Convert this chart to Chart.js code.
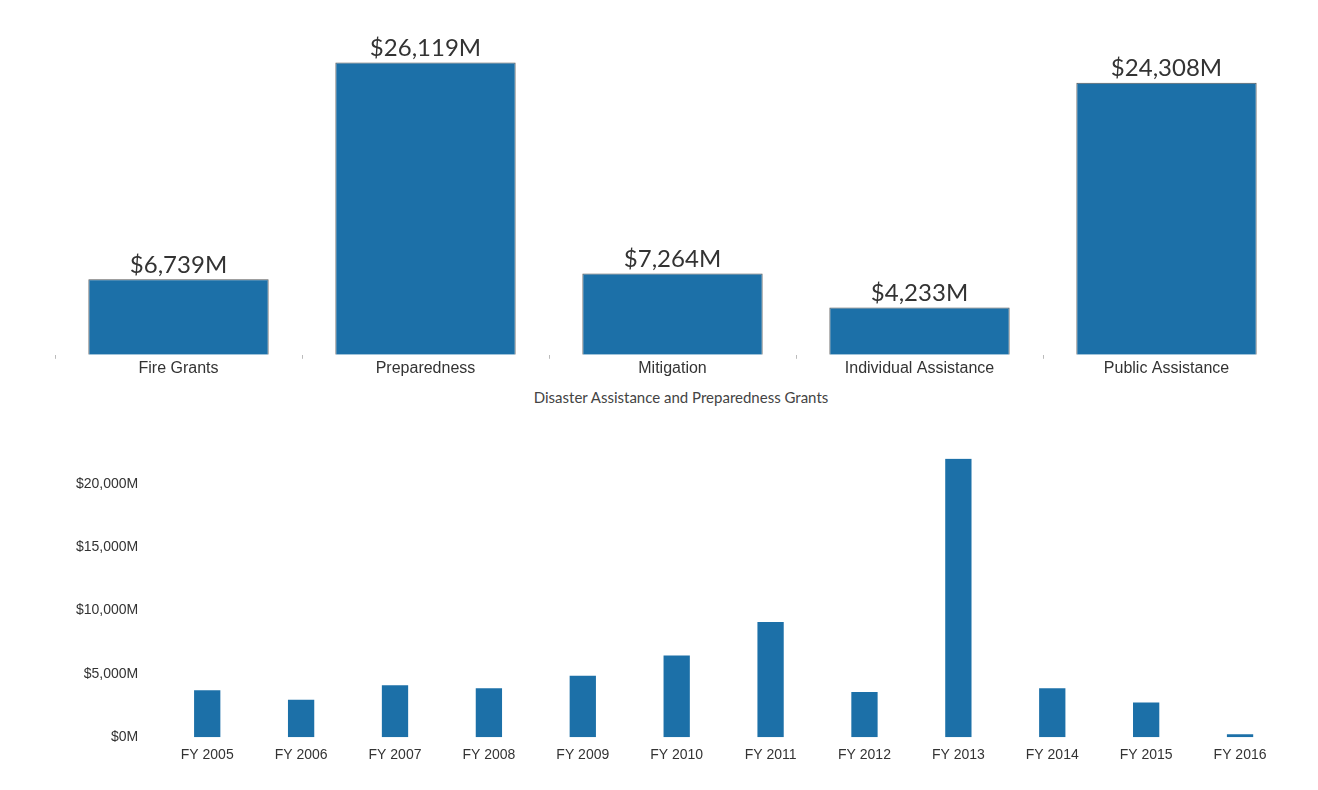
<!DOCTYPE html>
<html>
<head>
<meta charset="utf-8">
<script src="https://cdn.jsdelivr.net/npm/chart.js@4.4.0/dist/chart.umd.min.js"></script>
<style>
  body { margin: 0; background: #fff; font-family: "Lato", "DejaVu Sans", sans-serif; }
  #top { position: absolute; left: 55px; top: 0px; width: 1235px; height: 378px; }
  #title { position: absolute; left: 0; top: 388px; width: 1362px; text-align: center; font-size: 15px; color: #444; }
  #bottom { position: absolute; left: 62px; top: 436px; width: 1225px; height: 330px; }
</style>
</head>
<body>
<div id="top"><canvas id="programChart"></canvas></div>
<div id="title">Disaster Assistance and Preparedness Grants</div>
<div id="bottom"><canvas id="yearChart"></canvas></div>
<script>
const programs = ["Fire Grants", "Preparedness", "Mitigation", "Individual Assistance", "Public Assistance"];
const programTotals = [6739, 26119, 7264, 4233, 24308];
const years = ["FY 2005", "FY 2006", "FY 2007", "FY 2008", "FY 2009", "FY 2010", "FY 2011", "FY 2012", "FY 2013", "FY 2014", "FY 2015", "FY 2016"];
const yearTotals = [3710, 2950, 4090, 3860, 4850, 6440, 9090, 3560, 21970, 3860, 2730, 230];
const yTicks = [0, 5000, 10000, 15000, 20000];

const barColor = "#1c70a8";
const fmt = (v) => "$" + v.toLocaleString("en-US") + "M";

// value labels above bars
const valueLabels = {
  id: "valueLabels",
  afterDatasetsDraw(chart) {
    const ctx = chart.ctx;
    ctx.save();
    ctx.font = "24px Lato, 'DejaVu Sans', sans-serif";
    ctx.fillStyle = "#333";
    ctx.textAlign = "center";
    ctx.textBaseline = "bottom";
    chart.getDatasetMeta(0).data.forEach((bar, i) => {
      ctx.fillText(fmt(programTotals[i]), bar.x, bar.y - 2);
    });
    ctx.restore();
  },
};

new Chart(document.getElementById("programChart"), {
  type: "bar",
  data: {
    labels: programs,
    datasets: [{ data: programTotals, backgroundColor: barColor, borderColor: "#555", borderWidth: 1, barPercentage: 0.73, categoryPercentage: 1 }],
  },
  options: {
    responsive: true,
    maintainAspectRatio: false,
    animation: false,
    plugins: { legend: { display: false }, tooltip: { enabled: false } },
    scales: {
      x: {
        grid: { display: true, drawOnChartArea: false, tickLength: 4, color: "#bbb", offset: true },
        border: { display: false },
        ticks: { color: "#333", font: { size: 16 }, padding: 0 },
      },
      y: { display: false, min: 0, max: 31700 },
    },
  },
  plugins: [valueLabels],
});

new Chart(document.getElementById("yearChart"), {
  type: "bar",
  data: {
    labels: years,
    datasets: [{ data: yearTotals, backgroundColor: barColor, barPercentage: 0.28, categoryPercentage: 1 }],
  },
  options: {
    responsive: true,
    maintainAspectRatio: false,
    animation: false,
    plugins: { legend: { display: false }, tooltip: { enabled: false } },
    scales: {
      x: {
        grid: { display: false },
        border: { display: false },
        ticks: { color: "#333", font: { size: 14 }, padding: 2 },
      },
      y: {
        min: 0,
        max: 22000,
        grid: { display: false },
        border: { display: false },
        afterBuildTicks: (axis) => { axis.ticks = yTicks.map((v) => ({ value: v })); },
        ticks: { color: "#333", font: { size: 14 }, padding: 14, callback: (v) => fmt(v) },
      },
    },
  },
});
</script>
</body>
</html>
